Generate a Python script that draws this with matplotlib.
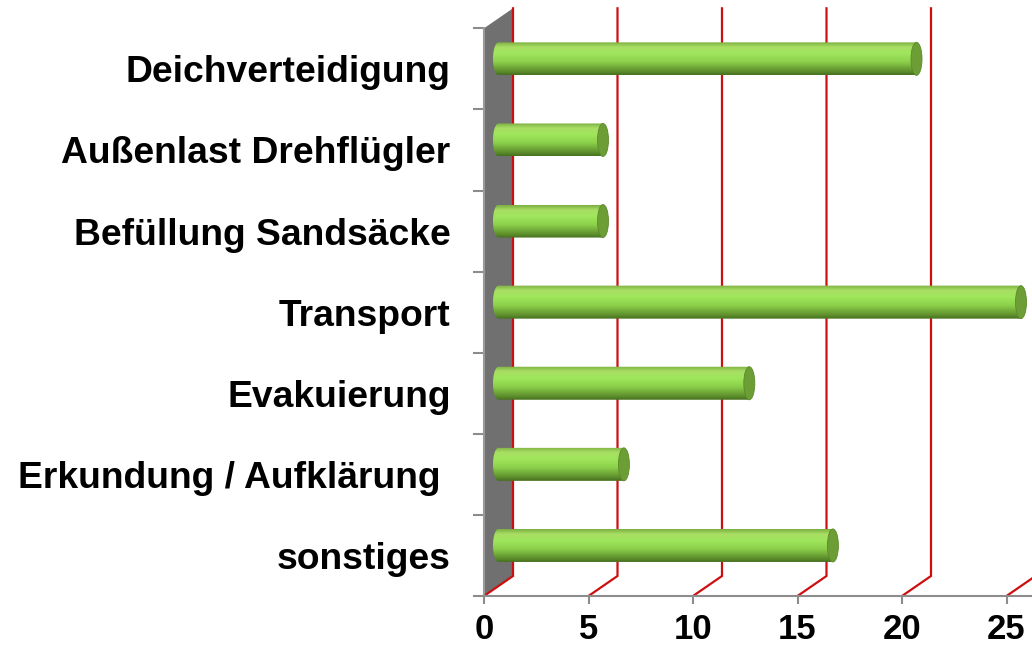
import numpy as np
import matplotlib
matplotlib.use('Agg')
import matplotlib.pyplot as plt
from matplotlib.patches import Polygon, Ellipse, PathPatch
from matplotlib.path import Path

categories = ['sonstiges', 'Erkundung / Aufklärung ', 'Evakuierung', 'Transport',
              'Befüllung Sandsäcke', 'Außenlast Drehflügler', 'Deichverteidigung']
values = [16, 6, 12, 25, 5, 5, 20]
xticks = [0, 5, 10, 15, 20, 25]

plt.rcParams['font.family'] = ['Liberation Sans', 'DejaVu Sans']
plt.rcParams['font.weight'] = 'bold'

W, H = 1032, 648
fig = plt.figure(figsize=(W / 100, H / 100), dpi=100)
ax = fig.add_axes([484 / W, 52 / H, (W - 484) / W, 596 / H])

px = 20.9   # pixels per x unit
cat = 81.1  # pixels per category
n = len(categories)
xmax = (W - 484) / px
ymax = 596 / cat
dx = 29 / px   # depth offset
dy = 20 / cat

# back wall
ax.add_patch(Polygon([(0, 0), (dx, dy), (dx, n + dy), (0, n)],
                     fc='#707070', ec='none', zorder=1, clip_on=False))

# red gridlines (floor diagonal + back wall vertical)
for x in xticks:
    ax.plot([x, x + dx, x + dx], [0, dy, n + dy], color='#cc1010', lw=1.6,
            zorder=2, solid_joinstyle='miter')

# cylinder shading
stops = [0.0, 0.15, 0.35, 0.6, 0.85, 1.0]
cols = np.array([[125, 175, 65], [168, 222, 100], [160, 230, 92],
                 [140, 208, 75], [100, 152, 48], [72, 112, 32]]) / 255
s = np.linspace(0, 1, 100)
grad = np.stack([np.interp(s, stops, cols[:, k]) for k in range(3)], axis=-1)
grad = grad[:, None, :]

h = 33 / cat
a = 5.5 / px
for i, v in enumerate(values):
    yc = i + 0.5 + dy / 2
    x0 = dx / 2
    x1 = x0 + v
    t = np.linspace(np.pi / 2, 3 * np.pi / 2, 40)
    verts = np.column_stack([x0 + a * np.cos(t), yc + h / 2 * np.sin(t)])
    verts = np.vstack([verts, [[x1, yc - h / 2], [x1, yc + h / 2], verts[0]]])
    clip = PathPatch(Path(verts), fc='none', ec='none')
    ax.add_patch(clip)
    im = ax.imshow(grad, extent=[x0 - a, x1, yc - h / 2, yc + h / 2],
                   aspect='auto', zorder=3, interpolation='bilinear')
    im.set_clip_path(clip)
    ax.add_patch(Ellipse((x1, yc), 2 * a, h, fc='#6d9e36', ec='#5a8a2a',
                         lw=0.6, zorder=4))

ax.set_xlim(0, xmax)
ax.set_ylim(0, ymax)

for side in ['top', 'right']:
    ax.spines[side].set_visible(False)
ax.spines['left'].set_bounds(0, n)
ax.spines['left'].set_color('#9a9a9a')
ax.spines['left'].set_linewidth(1.5)
ax.spines['bottom'].set_color('#8c8c8c')
ax.spines['bottom'].set_linewidth(1.5)

ax.set_xticks(xticks)
ax.tick_params(axis='x', length=6, width=1.5, color='#8c8c8c',
               labelsize=25, pad=6)

ax.set_yticks(range(n + 1))
ax.set_yticklabels([])
ax.set_yticks(np.arange(n) + 0.5, minor=True)
ax.set_yticklabels(categories, minor=True)
ax.tick_params(axis='y', which='major', length=8, width=1.5, color='#8c8c8c')
ax.tick_params(axis='y', which='minor', length=0, labelsize=26.8, pad=24)

fig.savefig('out.png', dpi=100)
